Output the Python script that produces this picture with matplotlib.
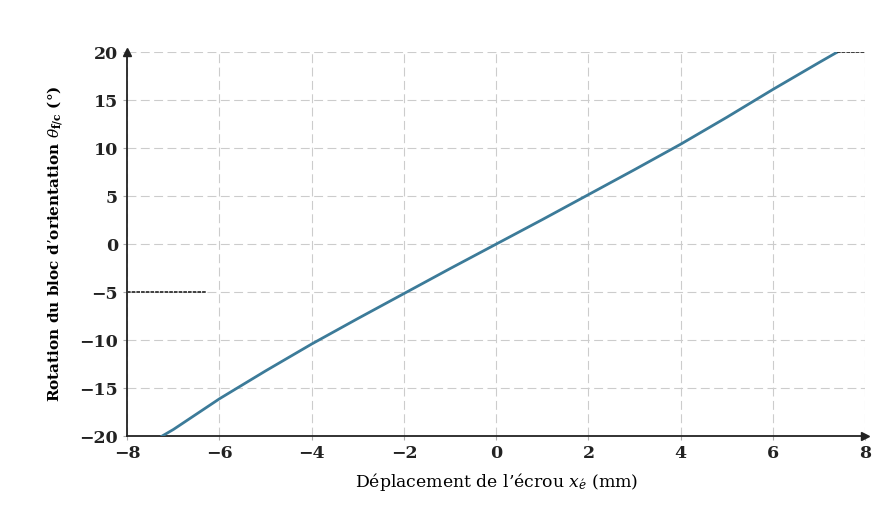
import numpy as np
import matplotlib
matplotlib.use('Agg')
import matplotlib.pyplot as plt

# valeurs
x_ecrou = [-7.25, -7, -6, -5, -4, -3, -2, -1, 0, 1, 2, 3, 4, 5, 6, 7, 7.4]
theta = [-20, -19.3, -16.1, -13.2, -10.4, -7.75, -5.15, -2.55, 0,
         2.55, 5.15, 7.75, 10.4, 13.2, 16.1, 18.9, 20]

# petits traits noirs (reste du scan)
trait1_x = [-8, -6.3]
trait1_y = [-5, -5]
trait2_x = [7.4, 8]
trait2_y = [20, 20]

xticks = [-8, -6, -4, -2, 0, 2, 4, 6, 8]
yticks = [-20, -15, -10, -5, 0, 5, 10, 15, 20]

plt.rcParams['font.family'] = ['DejaVu Serif']
plt.rcParams['mathtext.fontset'] = 'dejavuserif'

fig = plt.figure(figsize=(8.9, 5.15), dpi=100)
ax = fig.add_axes([0.143, 0.153, 0.829, 0.746])

ax.plot(x_ecrou, theta, color='#3c7b99', lw=2.0, zorder=3)
ax.plot(trait1_x, trait1_y, color='#333333', lw=1.3, ls=(0, (2, 0.6)), zorder=3)
ax.plot(trait2_x, trait2_y, color='#333333', lw=1.3, ls=(0, (2, 0.6)), zorder=3)

ax.set_xlim(-8, 8)
ax.set_ylim(-20, 20)
ax.set_xticks(xticks)
ax.set_yticks(yticks)
ax.set_xticklabels([str(v).replace('-', '\u2212') for v in xticks], fontweight='bold')
ax.set_yticklabels([str(v).replace('-', '\u2212') for v in yticks], fontweight='bold')
ax.tick_params(labelsize=12.5, length=3, color='#aaaaaa', labelcolor='#222222')

ax.grid(True, color='#cccccc', ls=(0, (8, 4)), lw=0.8)
for s in ['top', 'right']:
    ax.spines[s].set_visible(False)
for s in ['left', 'bottom']:
    ax.spines[s].set_color('#222222')
    ax.spines[s].set_linewidth(1.3)

# flèches au bout des axes
ax.plot(1.0, 0, '>', color='#222222', ms=6, transform=ax.transAxes, clip_on=False)
ax.plot(0, 1.0, '^', color='#222222', ms=6, transform=ax.transAxes, clip_on=False)

ax.set_xlabel("Déplacement de l\u2019écrou $x_{\\acute{e}}$ (mm)", fontsize=12.4, labelpad=6)
ax.set_ylabel("Rotation du bloc d\u2019orientation $\\theta_{\\mathbf{f/c}}$ (°)",
              fontsize=11, fontweight='bold', labelpad=10)

fig.savefig('out.png', dpi=100)
